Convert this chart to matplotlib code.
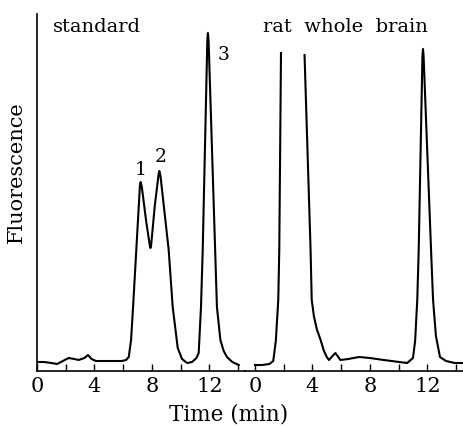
import numpy as np
import matplotlib.pyplot as plt

# standard trace (time in min, fluorescence in arbitrary units)
std_t = [0.0, 0.5, 1.0, 1.4, 1.8, 2.2, 2.6, 2.9, 3.3, 3.55, 3.8, 4.1, 5.0, 5.9,
         6.2, 6.39, 6.55, 6.69, 7.17, 7.22, 7.3, 7.6, 7.85, 7.9, 7.95, 8.2, 8.48, 8.52,
         8.6, 9.17, 9.45, 9.8, 10.1, 10.45, 10.8, 11.1, 11.26, 11.42, 11.54, 11.86,
         11.9, 11.95, 12.53, 12.77, 13.0, 13.23, 13.6, 14.05]
std_y = [9, 9, 8, 7, 10, 13, 12, 11, 13, 16, 12, 10, 10, 10,
         11, 14, 31, 64, 186, 189, 184, 150, 126, 123, 126, 165, 198, 200,
         195, 121, 64, 23, 12, 8, 9, 13, 18, 64, 121, 330,
         338, 330, 64, 31, 20, 14, 9, 6]

# rat whole brain trace (NaN = pen off scale)
brain_t = [0.0, 0.5, 1.0, 1.27, 1.45, 1.62, 1.69, 1.81, 2.6, 3.45, 3.87, 3.95,
           4.1, 4.3, 4.57, 4.8, 5.0, 5.15, 5.4, 5.6, 5.95, 6.5, 7.23, 8.0,
           8.97, 9.5, 10.6, 11.0, 11.15, 11.3, 11.4, 11.66, 11.7, 11.74, 12.26, 12.4,
           12.6, 12.88, 13.3, 13.9, 14.6]
brain_y = [6, 6, 7, 10, 30, 71, 121, 318, np.nan, 316, 121, 71,
           55, 42, 31, 20, 14, 11, 15, 18, 11, 12, 14, 13,
           11, 10, 8, 13, 30, 71, 121, 315, 322, 315, 121, 71,
           35, 14, 10, 8, 8]

peak_labels = ['1', '2', '3']

plt.rcParams['font.family'] = 'DejaVu Serif'

fig = plt.figure(figsize=(4.64, 4.28), dpi=100)
W, H = 464, 428
px_min = 14.36
x0 = 37.0
split = 245.0
bottom = (H - 371) / H
height = 357 / H

ax1 = fig.add_axes([x0 / W, bottom, (split - x0) / W, height])
ax2 = fig.add_axes([split / W, bottom, (W - split) / W, height])

ax1.plot(std_t, std_y, color='black', lw=1.5)
ax2.plot(brain_t, brain_y, color='black', lw=1.5)

ax1.set_xlim(0, (split - x0) / px_min)
start2 = -(255 - split) / px_min
ax2.set_xlim(start2, start2 + (W - split) / px_min)

for ax in (ax1, ax2):
    ax.set_ylim(0, 357)
    ax.set_yticks([])
    ax.spines['top'].set_visible(False)
    ax.spines['right'].set_visible(False)
    ax.spines['bottom'].set_linewidth(1.2)
    ax.set_xticks(np.arange(0, 15, 2), minor=True)
    ax.set_xticks([0, 4, 8, 12])
    ax.tick_params(axis='x', which='both', direction='in', length=5, width=1,
                   labelsize=15, pad=4)
    ax.patch.set_alpha(0)
ax2.spines['left'].set_visible(False)
ax1.spines['left'].set_linewidth(1.2)

ax1.set_ylabel('Fluorescence', fontsize=15)
ax1.yaxis.set_label_coords(-0.055, 0.557)
ax1.text(1.1, 344, 'standard', fontsize=14, va='center')
ax2.text(0.56, 344, 'rat  whole  brain', fontsize=14, va='center')

ax1.text(7.2, 201, peak_labels[0], fontsize=13.5, ha='center', va='center')
ax1.text(8.6, 214, peak_labels[1], fontsize=13.5, ha='center', va='center')
ax1.text(13.0, 316, peak_labels[2], fontsize=13.5, ha='center', va='center')

fig.text(229 / W, 1 - 414 / H, 'Time (min)', fontsize=15.5, ha='center', va='center')

fig.savefig('out.png', dpi=100)
